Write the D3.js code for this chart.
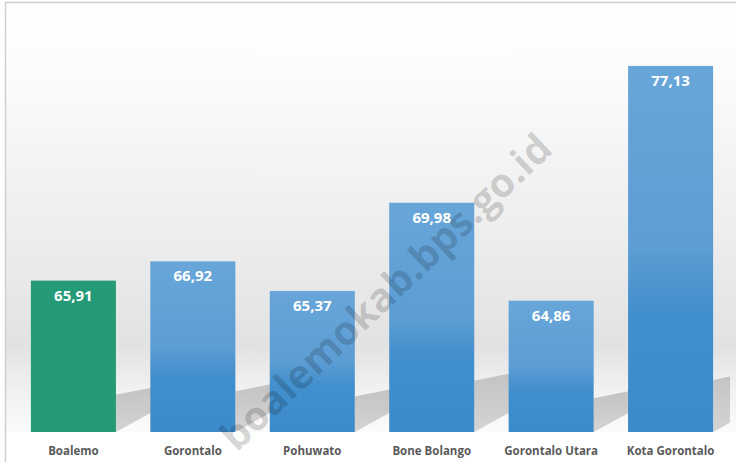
<!DOCTYPE html>
<html>
<head>
<meta charset="utf-8">
<script src="https://cdn.jsdelivr.net/npm/d3@7"></script>
<style>
  body { margin: 0; background: #fff; }
  svg { display: block; }
</style>
</head>
<body>
<div id="chart"></div>
<script>
var categories = ['Boalemo', 'Gorontalo', 'Pohuwato', 'Bone Bolango', 'Gorontalo Utara', 'Kota Gorontalo'];
var values = [65.91, 66.92, 65.37, 69.98, 64.86, 77.13];
var labels = ['65,91', '66,92', '65,37', '69,98', '64,86', '77,13'];
var highlight = ['Boalemo'];

var width = 736, height = 462;
var base = 432;

var svg = d3.select('#chart').append('svg')
	.attr('width', width)
	.attr('height', height);

var defs = svg.append('defs');

var bg = defs.append('linearGradient').attr('id', 'bg')
	.attr('x1', 0).attr('y1', 0).attr('x2', 0).attr('y2', 1);
bg.append('stop').attr('offset', '0').attr('stop-color', '#ffffff');
bg.append('stop').attr('offset', '0.15').attr('stop-color', '#fcfcfc');
bg.append('stop').attr('offset', '0.55').attr('stop-color', '#ededed');
bg.append('stop').attr('offset', '0.8').attr('stop-color', '#e2e2e2');
bg.append('stop').attr('offset', '0.9').attr('stop-color', '#f1f1f1');
bg.append('stop').attr('offset', '1').attr('stop-color', '#fbfbfb');

var blue = defs.append('linearGradient').attr('id', 'blue')
	.attr('x1', 0).attr('y1', 0).attr('x2', 0).attr('y2', 1);
blue.append('stop').attr('offset', '0').attr('stop-color', '#68a6d9');
blue.append('stop').attr('offset', '0.5').attr('stop-color', '#5c9dd4');
blue.append('stop').attr('offset', '0.68').attr('stop-color', '#418fcc');
blue.append('stop').attr('offset', '1').attr('stop-color', '#3c8ac9');

var shade = defs.append('linearGradient').attr('id', 'shade')
	.attr('x1', 0).attr('y1', 0).attr('x2', 0).attr('y2', 1);
shade.append('stop').attr('offset', '0').attr('stop-color', '#c3c3c3');
shade.append('stop').attr('offset', '1').attr('stop-color', '#d4d4d4');

defs.append('clipPath').attr('id', 'plot')
	.append('rect').attr('x', 5).attr('y', 2).attr('width', 725).attr('height', base - 2);

// plot background + frame
svg.append('rect')
	.attr('x', 5).attr('y', 2)
	.attr('width', width - 5).attr('height', base - 2)
	.style('fill', 'url(#bg)');
svg.append('path')
	.attr('d', 'M5.5,' + height + 'V2.5H' + width)
	.style('fill', 'none').style('stroke', '#d0d0d0').style('stroke-width', 1.5);

var x = d3.scaleBand().domain(categories).range([7, 737]).paddingInner(0.288).paddingOuter(0.2);
var y = d3.scaleLinear().domain([58, 80]).range([base, 11]);

// floor shadows cast to the right of each bar
var shadows = svg.append('g').attr('clip-path', 'url(#plot)');
categories.forEach(function(c, i) {
	var x1 = x(c) + x.bandwidth();
	var h = base - y(values[i]);
	var sh = Math.min(52, 10 + h * 0.18);
	var w = 40;
	var pts = [
		[x1, base],
		[x1, base - sh],
		[x1 + w, base - sh - w * 0.2],
		[x1 + w, base - w * 0.55]
	];
	shadows.append('path')
		.attr('d', d3.line()(pts) + 'Z')
		.style('fill', 'url(#shade)');
});

var bars = svg.selectAll('.bar').data(categories).enter().append('g').attr('class', 'bar');
bars.append('rect')
	.attr('x', function(d) { return x(d); })
	.attr('y', function(d, i) { return y(values[i]); })
	.attr('width', x.bandwidth())
	.attr('height', function(d, i) { return base - y(values[i]); })
	.style('fill', function(d) { return highlight.indexOf(d) >= 0 ? '#249a76' : 'url(#blue)'; });

bars.append('text')
	.attr('x', function(d) { return x(d) + x.bandwidth() / 2; })
	.attr('y', function(d, i) { return y(values[i]) + 20; })
	.style('text-anchor', 'middle')
	.style('font-family', '"Open Sans", sans-serif')
	.style('font-weight', 'bold')
	.style('font-size', '15px')
	.style('fill', '#ffffff')
	.text(function(d, i) { return labels[i]; });

bars.append('text')
	.attr('x', function(d) { return x(d) + x.bandwidth() / 2; })
	.attr('y', 455)
	.style('text-anchor', 'middle')
	.style('font-family', '"Open Sans", sans-serif')
	.style('font-weight', 'bold')
	.style('font-size', '11.5px')
	.style('fill', '#5a5a5a')
	.text(function(d) { return d; });

// watermark
svg.append('text')
	.attr('transform', 'translate(386,292) rotate(-43.5)')
	.attr('text-anchor', 'middle')
	.attr('dy', '0.35em')
	.style('font-family', '"Open Sans", sans-serif')
	.style('font-weight', 'bold')
	.style('font-size', '40px')
	.style('fill', '#000')
	.style('fill-opacity', 0.16)
	.text('boalemokab.bps.go.id');
</script>
</body>
</html>
